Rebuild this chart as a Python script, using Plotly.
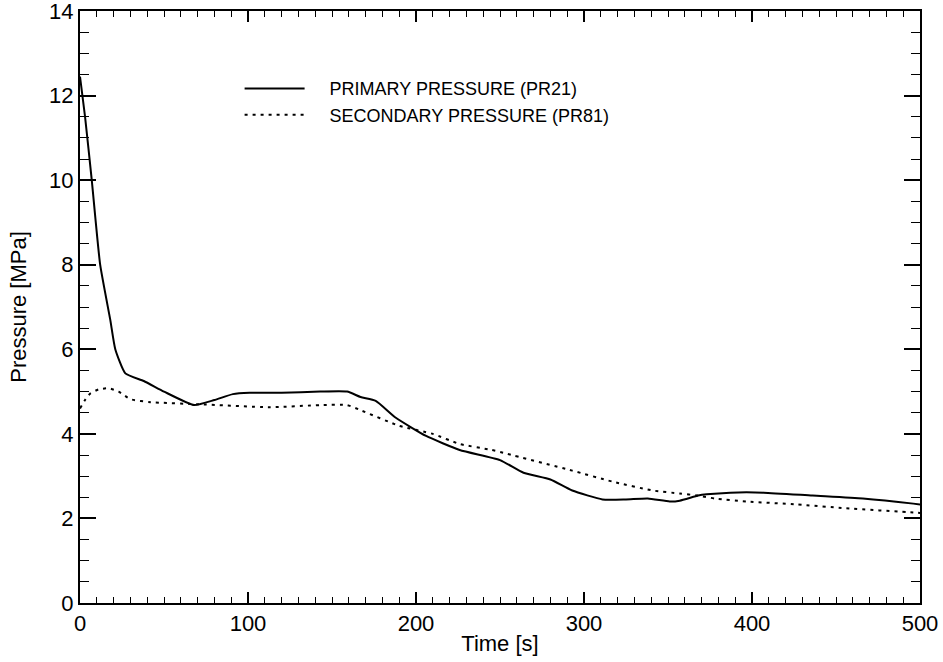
import plotly.graph_objects as go

# Primary pressure (PR21)
t_primary = [0, 3, 7, 12, 18, 21, 27, 38, 50, 68, 80, 91, 101, 120, 143, 159, 167, 176,
             188, 206, 226, 250, 264, 280, 293, 311, 325, 338, 351, 357, 368, 373, 387,
             407, 436, 466, 496, 500]
p_primary = [12.45, 11.5, 10.0, 8.0, 6.7, 6.0, 5.43, 5.25, 5.0, 4.68, 4.8, 4.94, 4.97,
             4.97, 5.0, 5.0, 4.87, 4.78, 4.38, 3.95, 3.62, 3.38, 3.08, 2.92, 2.66, 2.45,
             2.45, 2.47, 2.4, 2.42, 2.54, 2.57, 2.61, 2.61, 2.54, 2.47, 2.35, 2.33]

# Secondary pressure (PR81)
t_secondary = [0, 3, 6, 11, 17, 23, 30, 42, 71, 113, 143, 159, 167, 190, 210, 226, 245,
               254, 293, 317, 341, 357, 368, 378, 397, 427, 456, 496, 500]
p_secondary = [4.6, 4.8, 4.95, 5.05, 5.08, 5.0, 4.82, 4.75, 4.7, 4.63, 4.68, 4.68, 4.56,
               4.19, 4.0, 3.76, 3.62, 3.53, 3.13, 2.87, 2.66, 2.59, 2.54, 2.47, 2.4, 2.33,
               2.24, 2.14, 2.13]

x_ticks = [0, 100, 200, 300, 400, 500]
y_ticks = [0, 2, 4, 6, 8, 10, 12, 14]

series_names = ["PRIMARY PRESSURE (PR21)", "SECONDARY PRESSURE (PR81)"]

FONT = "Liberation Sans, Arial, Helvetica, sans-serif"
PAD = "\u00a0\u00a0\u00a0\u00a0"

fig = go.Figure()
fig.add_trace(go.Scatter(
    x=t_primary, y=p_primary, mode="lines",
    name=PAD + series_names[0],
    line=dict(color="black", width=2, shape="spline", smoothing=0.5),
))
fig.add_trace(go.Scatter(
    x=t_secondary, y=p_secondary, mode="lines",
    name=PAD + series_names[1],
    line=dict(color="black", width=2, dash="3px,5px", shape="spline", smoothing=0.5),
))

fig.update_layout(
    width=943, height=662,
    margin=dict(l=80, r=23, t=11, b=59),
    paper_bgcolor="white", plot_bgcolor="white",
    font=dict(family=FONT, color="black", size=22),
    showlegend=True,
    legend=dict(
        x=0.19, y=0.9, xanchor="left", yanchor="top",
        bgcolor="rgba(0,0,0,0)", borderwidth=0,
        font=dict(size=18, family=FONT, color="black"),
        itemwidth=60, tracegroupgap=0,
    ),
    xaxis=dict(
        range=[0, 500], tickvals=x_ticks, ticktext=[str(v) for v in x_ticks],
        showgrid=False, zeroline=False,
        showline=True, linecolor="black", linewidth=2, mirror="allticks",
        ticks="inside", ticklen=11, tickwidth=1.5, tickcolor="black",
        minor=dict(ticks="inside", dtick=10, ticklen=6, tickwidth=1, tickcolor="black"),
        title=dict(text="Time [s]", font=dict(size=22), standoff=0),
        tickfont=dict(size=22),
        ticklabeloverflow="allow",
        automargin=False,
    ),
    yaxis=dict(
        range=[0, 14], tickvals=y_ticks, ticktext=[str(v) for v in y_ticks],
        showgrid=False, zeroline=False,
        showline=True, linecolor="black", linewidth=2, mirror="allticks",
        ticks="inside", ticklen=16, tickwidth=1.5, tickcolor="black",
        minor=dict(ticks="inside", dtick=0.5, ticklen=9, tickwidth=1, tickcolor="black"),
        title=dict(text="Pressure [MPa]", font=dict(size=22), standoff=16),
        tickfont=dict(size=22),
        ticklabeloverflow="allow",
        automargin=False,
    ),
)

fig.write_html("out.html")
